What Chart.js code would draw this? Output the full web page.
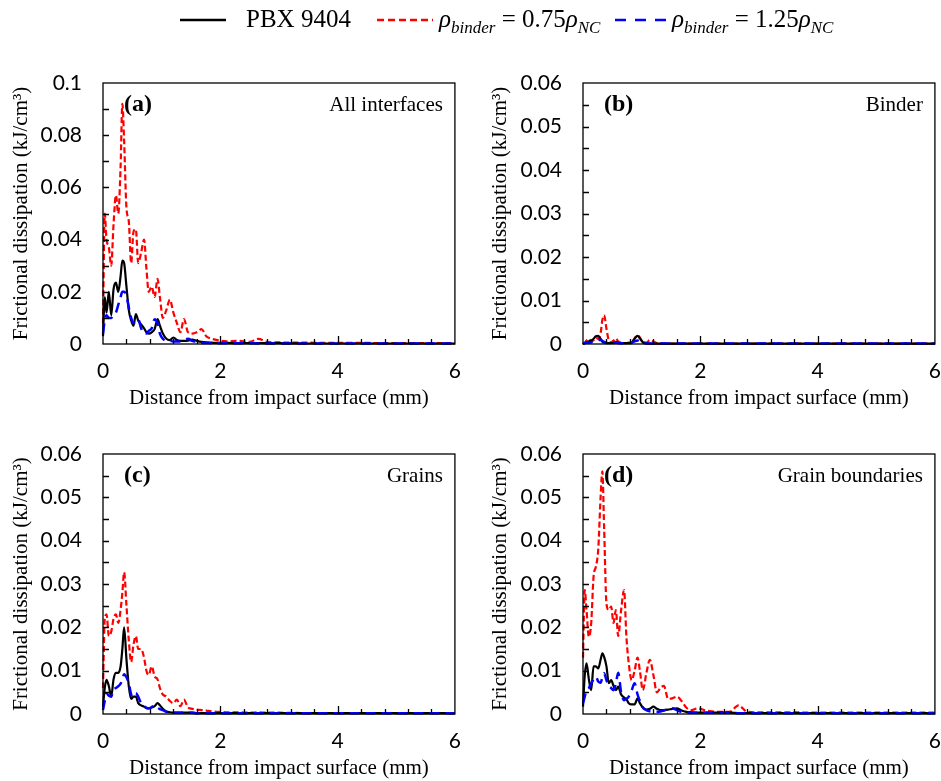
<!DOCTYPE html>
<html>
<head>
<meta charset="utf-8">
<script src="https://cdn.jsdelivr.net/npm/chart.js@4.4.1/dist/chart.umd.min.js"></script>
<style>
  html, body { margin: 0; padding: 0; background: #fff; }
  #page { position: relative; width: 941px; height: 781px; overflow: hidden; background: #fff; }
  .panel { position: absolute; }
  .leg { position: absolute; top: 4px; z-index: 2; font-family: "Liberation Serif", "Times New Roman", serif; font-size: 25px; line-height: 30px; white-space: nowrap; color: #000; }
  .leg sub { font-size: 17px; vertical-align: -6px; line-height: 0; }
  svg.key { position: absolute; top: 8px; z-index: 2; }
</style>
</head>
<body>
<div id="page">
  <!-- canvases run a bit wide: Chart.js keeps ~21px right of the plot for the last x label -->
  <div class="panel" style="left:0;top:0;width:476px;height:420px"><canvas id="chartA"></canvas></div>
  <div class="panel" style="left:470px;top:0;width:486px;height:420px"><canvas id="chartB"></canvas></div>
  <div class="panel" style="left:0;top:420px;width:476px;height:361px"><canvas id="chartC"></canvas></div>
  <div class="panel" style="left:470px;top:420px;width:486px;height:361px"><canvas id="chartD"></canvas></div>

  <svg class="key" style="left:180px" width="48" height="24"><line x1="0" y1="12" x2="46" y2="12" stroke="#000" stroke-width="2.5"/></svg>
  <div class="leg" style="left:246px">PBX 9404</div>
  <svg class="key" style="left:377px" width="58" height="24"><line x1="0" y1="12" x2="56" y2="12" stroke="#ff0000" stroke-width="2.5" stroke-dasharray="7 4"/></svg>
  <div class="leg" style="left:439px"><i>ρ</i><sub><i>binder</i></sub> = 0.75<i>ρ</i><sub><i>NC</i></sub></div>
  <svg class="key" style="left:615px" width="54" height="24"><line x1="0" y1="12" x2="52" y2="12" stroke="#0000ff" stroke-width="2.5" stroke-dasharray="11 9"/></svg>
  <div class="leg" style="left:672px"><i>ρ</i><sub><i>binder</i></sub> = 1.25<i>ρ</i><sub><i>NC</i></sub></div>
</div>

<script>
// distance from impact surface (mm), shared by every curve
const distanceMm = [0, 0.03, 0.06, 0.1, 0.14, 0.18, 0.22, 0.26, 0.3, 0.33, 0.36, 0.4, 0.44, 0.48, 0.52, 0.56, 0.6, 0.65, 0.7, 0.74,
  0.78, 0.83, 0.88, 0.93, 0.97, 1.02, 1.08, 1.14, 1.2, 1.26, 1.32, 1.38, 1.45, 1.52, 1.6, 1.68, 1.76, 1.85, 1.95, 2.1,
  2.3, 2.5, 2.65, 2.8, 3.0, 3.5, 4.0, 4.5, 5.0, 5.5, 6.0];

// (a) all interfaces
const pbxAll = [0.003, 0.018, 0.012, 0.020, 0.011, 0.021, 0.0235, 0.020, 0.026, 0.032, 0.031, 0.022, 0.013, 0.009, 0.007, 0.0115, 0.009, 0.0075, 0.006, 0.0045,
  0.004, 0.0045, 0.0057, 0.0095, 0.007, 0.004, 0.002, 0.0015, 0.0025, 0.0015, 0.0012, 0.0012, 0.0013, 0.0017, 0.0012, 0.0008, 0.0006, 0.0005, 0.0004, 0.0004,
  0.0003, 0.0003, 0.0003, 0.0003, 0.0003, 0.0002, 0.0002, 0.0002, 0.0002, 0.0002, 0.0002];
const lowAll = [0.008, 0.050, 0.040, 0.037, 0.030, 0.046, 0.057, 0.050, 0.068, 0.092, 0.078, 0.052, 0.047, 0.031, 0.043, 0.044, 0.031, 0.035, 0.040, 0.029,
  0.020, 0.022, 0.018, 0.025, 0.018, 0.010, 0.013, 0.017, 0.012, 0.008, 0.0045, 0.0095, 0.0045, 0.004, 0.0045, 0.0057, 0.003, 0.002, 0.0015, 0.001,
  0.0012, 0.0008, 0.002, 0.0008, 0.0006, 0.0005, 0.0004, 0.0004, 0.0003, 0.0003, 0.0003];
const highAll = [0.004, 0.009, 0.011, 0.010, 0.010, 0.011, 0.012, 0.015, 0.018, 0.020, 0.020, 0.0185, 0.014, 0.010, 0.008, 0.009, 0.0095, 0.006, 0.004, 0.004,
  0.005, 0.006, 0.0095, 0.008, 0.004, 0.002, 0.0013, 0.0012, 0.001, 0.001, 0.001, 0.0015, 0.002, 0.0012, 0.0008, 0.0004, 0.0004, 0.0003, 0.0003, 0.0003,
  0.0003, 0.0003, 0.0002, 0.0002, 0.0002, 0.0002, 0.0002, 0.0002, 0.0002, 0.0002, 0.0002];

// (b) binder
const pbxBinder = [0, 0.0002, 0.0004, 0.0006, 0.0008, 0.0012, 0.0018, 0.0019, 0.0012, 0.0005, 0.0003, 0.0002, 0.0002, 0.0002, 0.0003, 0.0005, 0.0003, 0.0002, 0.0002, 0.0002,
  0.0002, 0.0003, 0.0012, 0.0019, 0.0013, 0.0004, 0.0002, 0.0001, 0.0001, 0.0001, 0.0001, 0.0001, 0.0001, 0.0001, 0.0001, 0.0001, 0.0001, 0.0001, 0.0001, 0.0001,
  0.0001, 0.0001, 0.0001, 0.0001, 0.0001, 0.0001, 0.0001, 0.0001, 0.0001, 0.0001, 0.0001];
const lowBinder = [0, 0.0003, 0.0008, 0.0012, 0.0006, 0.0009, 0.0015, 0.0012, 0.0025, 0.0055, 0.0066, 0.0035, 0.0008, 0.0004, 0.0008, 0.0013, 0.0006, 0.0003, 0.0002, 0.0002,
  0.0003, 0.0004, 0.0013, 0.0020, 0.0015, 0.0004, 0.0003, 0.0009, 0.0006, 0.0002, 0.0001, 0.0001, 0.0001, 0.0001, 0.0001, 0.0001, 0.0001, 0.0001, 0.0001, 0.0001,
  0.0001, 0.0001, 0.0001, 0.0001, 0.0001, 0.0001, 0.0001, 0.0001, 0.0001, 0.0001, 0.0001];
const highBinder = [0, 0.0002, 0.0003, 0.0003, 0.0004, 0.0005, 0.0007, 0.0009, 0.001, 0.0007, 0.0005, 0.0003, 0.0002, 0.0002, 0.0002, 0.0003, 0.0002, 0.0002, 0.0002, 0.0002,
  0.0002, 0.0003, 0.0006, 0.0008, 0.0005, 0.0002, 0.0001, 0.0001, 0.0001, 0.0001, 0.0001, 0.0001, 0.0001, 0.0001, 0.0001, 0.0001, 0.0001, 0.0001, 0.0001, 0.0001,
  0.0001, 0.0001, 0.0001, 0.0001, 0.0001, 0.0001, 0.0001, 0.0001, 0.0001, 0.0001, 0.0001];

// (c) grains
const pbxGrains = [0.0017, 0.006, 0.0079, 0.0064, 0.004, 0.008, 0.0095, 0.0095, 0.011, 0.015, 0.020, 0.0126, 0.0064, 0.0035, 0.004, 0.004, 0.0025, 0.002, 0.0017, 0.0014,
  0.0013, 0.0015, 0.0018, 0.0025, 0.002, 0.0012, 0.0006, 0.0004, 0.0003, 0.0003, 0.0003, 0.0003, 0.0003, 0.0003, 0.0002, 0.0002, 0.0002, 0.0002, 0.0002, 0.0002,
  0.0002, 0.0002, 0.0002, 0.0002, 0.0002, 0.0002, 0.0002, 0.0002, 0.0002, 0.0002, 0.0002];
const lowGrains = [0.006, 0.022, 0.023, 0.018, 0.019, 0.022, 0.023, 0.021, 0.024, 0.028, 0.0327, 0.025, 0.017, 0.012, 0.016, 0.018, 0.015, 0.015, 0.013, 0.010,
  0.009, 0.011, 0.0087, 0.008, 0.006, 0.0045, 0.004, 0.003, 0.0025, 0.0033, 0.0018, 0.0033, 0.0015, 0.0012, 0.001, 0.0009, 0.0008, 0.0006, 0.0005, 0.0004,
  0.0004, 0.0003, 0.0004, 0.0003, 0.0003, 0.0002, 0.0002, 0.0002, 0.0002, 0.0002, 0.0002];
const highGrains = [0.0009, 0.003, 0.0048, 0.0042, 0.004, 0.0056, 0.006, 0.0064, 0.007, 0.008, 0.0092, 0.0085, 0.0071, 0.0045, 0.004, 0.0048, 0.004, 0.0025, 0.002, 0.0014,
  0.0013, 0.0016, 0.002, 0.0015, 0.0011, 0.0009, 0.0005, 0.0004, 0.0003, 0.0003, 0.0003, 0.0003, 0.0003, 0.0003, 0.0002, 0.0002, 0.0002, 0.0002, 0.0002, 0.0002,
  0.0002, 0.0002, 0.0002, 0.0002, 0.0002, 0.0002, 0.0002, 0.0002, 0.0002, 0.0002, 0.0002];

// (d) grain boundaries
const pbxBoundaries = [0.0017, 0.009, 0.0117, 0.008, 0.0055, 0.011, 0.011, 0.0105, 0.0125, 0.014, 0.0132, 0.011, 0.0071, 0.0078, 0.0065, 0.0055, 0.0063, 0.0045, 0.0038, 0.0034,
  0.0025, 0.0022, 0.0022, 0.0036, 0.0025, 0.0015, 0.001, 0.0012, 0.0017, 0.0012, 0.0009, 0.0009, 0.001, 0.0012, 0.0013, 0.0008, 0.0005, 0.0004, 0.0003, 0.0003,
  0.0003, 0.0003, 0.0002, 0.0002, 0.0002, 0.0002, 0.0002, 0.0002, 0.0002, 0.0002, 0.0002];
const lowBoundaries = [0.013, 0.0286, 0.024, 0.0178, 0.021, 0.0317, 0.034, 0.038, 0.050, 0.056, 0.043, 0.0255, 0.024, 0.0248, 0.021, 0.024, 0.018, 0.024, 0.0286, 0.0178,
  0.0117, 0.0078, 0.010, 0.013, 0.010, 0.0055, 0.0094, 0.0125, 0.009, 0.005, 0.006, 0.0065, 0.0035, 0.0036, 0.004, 0.003, 0.0015, 0.0009, 0.0013, 0.0008,
  0.0005, 0.0005, 0.002, 0.0005, 0.0004, 0.0004, 0.0003, 0.0003, 0.0003, 0.0003, 0.0003];
const highBoundaries = [0.0025, 0.004, 0.0055, 0.006, 0.0071, 0.008, 0.0086, 0.0075, 0.0072, 0.0085, 0.0094, 0.0078, 0.0065, 0.006, 0.0055, 0.007, 0.0095, 0.005, 0.0032, 0.0035,
  0.004, 0.0055, 0.0071, 0.0045, 0.003, 0.0015, 0.0009, 0.0006, 0.0005, 0.0005, 0.0006, 0.0008, 0.0011, 0.0013, 0.0009, 0.0005, 0.0004, 0.0003, 0.0003, 0.0003,
  0.0003, 0.0003, 0.0002, 0.0002, 0.0002, 0.0002, 0.0002, 0.0002, 0.0002, 0.0002, 0.0002];

const SERIF = '"Liberation Serif", "Times New Roman", serif';
const SANS = 'Lato, "Noto Sans", sans-serif';

// box around the plot, inward ticks, panel tag and panel name
const panelFrame = {
  id: 'panelFrame',
  afterDatasetsDraw(chart, args, opts) {
    const { ctx, chartArea: a, scales: { x, y } } = chart;
    ctx.save();
    ctx.strokeStyle = '#000';
    ctx.lineWidth = 1.3;
    ctx.strokeRect(a.left, a.top, a.right - a.left, a.bottom - a.top);
    ctx.beginPath();
    const nY = Math.round(y.max / opts.minorY);
    for (let i = 1; i < nY; i++) {
      const py = Math.round(y.getPixelForValue(i * opts.minorY)) + 0.5;
      ctx.moveTo(a.left, py);
      ctx.lineTo(a.left + 6, py);
    }
    for (let i = 1; i < 15; i++) {
      const v = i * 0.4;
      const px = Math.round(x.getPixelForValue(v)) + 0.5;
      const len = i % 5 === 0 ? 8 : 5;
      ctx.moveTo(px, a.bottom);
      ctx.lineTo(px, a.bottom - len);
    }
    ctx.stroke();
    ctx.fillStyle = '#000';
    ctx.textBaseline = 'middle';
    ctx.font = 'bold 24px ' + SERIF;
    ctx.textAlign = 'left';
    ctx.fillText(opts.tag, a.left + 21, a.top + 22);
    ctx.font = '21px ' + SERIF;
    ctx.textAlign = 'right';
    ctx.fillText(opts.name, a.right - 12, a.top + 22);
    ctx.restore();
  }
};

const makePanel = (id, p) => {
  const pts = vals => distanceMm.map((d, i) => ({ x: d, y: vals[i] }));
  const line = (vals, color, width, dash) => ({
    data: pts(vals),
    borderColor: color,
    borderWidth: width,
    borderDash: dash,
    pointRadius: 0,
    cubicInterpolationMode: 'monotone',
    clip: 3,
  });
  return new Chart(document.getElementById(id), {
    type: 'line',
    data: {
      // index 0 is drawn on top
      datasets: [
        line(p.high, '#0000ff', 2.5, [10, 6]),
        line(p.pbx, '#000000', 2.2, []),
        line(p.low, '#ff0000', 2.2, [6, 3]),
      ]
    },
    options: {
      responsive: true,
      maintainAspectRatio: false,
      animation: false,
      layout: { padding: { top: p.padTop, right: 0, bottom: 0, left: 0 } },
      plugins: {
        legend: { display: false },
        tooltip: { enabled: false },
        panelFrame: { tag: p.tag, name: p.name, minorY: p.minorY },
      },
      scales: {
        x: {
          type: 'linear',
          min: 0,
          max: 6,
          grid: { display: false, drawTicks: false },
          border: { display: false },
          ticks: { stepSize: 2, padding: 15, color: '#000', font: { family: SANS, size: 21 } },
          title: {
            display: true,
            text: 'Distance from impact surface (mm)',
            color: '#000',
            font: { family: SERIF, size: 21 },
            padding: { top: 0, bottom: p.xTitlePad },
          },
          afterFit: s => { s.height = p.xHeight; },
        },
        y: {
          min: 0,
          max: p.yMax,
          grid: { display: false, drawTicks: false },
          border: { display: false },
          ticks: {
            stepSize: p.yStep,
            padding: 21,
            color: '#000',
            font: { family: SANS, size: 21 },
            callback: v => String(Number(v.toFixed(3))),
          },
          title: {
            display: true,
            text: 'Frictional dissipation (kJ/cm³)',
            color: '#000',
            font: { family: SERIF, size: 21 },
            padding: { top: p.yTitlePad, bottom: 0 },
          },
          afterFit: s => { s.width = p.yWidth; },
        }
      }
    },
    plugins: [panelFrame]
  });
};

makePanel('chartA', {
  pbx: pbxAll, low: lowAll, high: highAll, tag: '(a)', name: 'All interfaces',
  yMax: 0.1, yStep: 0.02, minorY: 0.01,
  padTop: 83, yWidth: 103, yTitlePad: 9, xHeight: 76, xTitlePad: 9,
});
makePanel('chartB', {
  pbx: pbxBinder, low: lowBinder, high: highBinder, tag: '(b)', name: 'Binder',
  yMax: 0.06, yStep: 0.01, minorY: 0.005,
  padTop: 83, yWidth: 113, yTitlePad: 18, xHeight: 76, xTitlePad: 9,
});
makePanel('chartC', {
  pbx: pbxGrains, low: lowGrains, high: highGrains, tag: '(c)', name: 'Grains',
  yMax: 0.06, yStep: 0.01, minorY: 0.005,
  padTop: 34, yWidth: 103, yTitlePad: 9, xHeight: 67, xTitlePad: 0,
});
makePanel('chartD', {
  pbx: pbxBoundaries, low: lowBoundaries, high: highBoundaries, tag: '(d)', name: 'Grain boundaries',
  yMax: 0.06, yStep: 0.01, minorY: 0.005,
  padTop: 34, yWidth: 113, yTitlePad: 18, xHeight: 67, xTitlePad: 0,
});
</script>
</body>
</html>
